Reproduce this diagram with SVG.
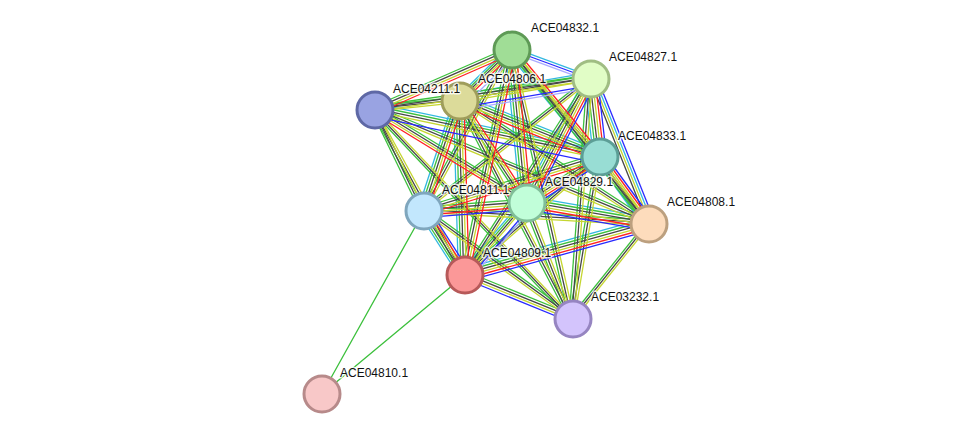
<svg xmlns="http://www.w3.org/2000/svg" xmlns:xlink="http://www.w3.org/1999/xlink" width="975" height="440" viewBox="0 0 975 440">
<style>
.bg{fill:#fff}
.ch{fill:none;stroke-width:1.3}
.gr{stroke:#3cc03c}.bk{stroke:#474747}.yl{stroke:#c5d630}.rd{stroke:#ff2222}.bl{stroke:#2828ff}.cy{stroke:#33b8e0}.li{stroke:#aaaaff}
.node circle{stroke-width:3}
.lbl{font-family:"Liberation Sans",Arial,sans-serif;font-size:12px;fill:#111;stroke:#fff;stroke-width:3;stroke-opacity:.75;paint-order:stroke;stroke-linejoin:round}
</style>
<defs>
<path id="AB" d="M512 50L591 79"/><path id="AC" d="M512 50L460 101"/><path id="AD" d="M512 50L375 110"/><path id="AE" d="M512 50L600 157"/><path id="AF" d="M512 50L527 203"/><path id="AG" d="M512 50L424 211"/><path id="AH" d="M512 50L649 224"/><path id="AI" d="M512 50L465 275"/><path id="AJ" d="M512 50L573 319"/>
<path id="BC" d="M591 79L460 101"/><path id="BD" d="M591 79L375 110"/><path id="BE" d="M591 79L600 157"/><path id="BF" d="M591 79L527 203"/><path id="BG" d="M591 79L424 211"/><path id="BH" d="M591 79L649 224"/><path id="BI" d="M591 79L465 275"/><path id="BJ" d="M591 79L573 319"/>
<path id="CD" d="M460 101L375 110"/><path id="CE" d="M460 101L600 157"/><path id="CF" d="M460 101L527 203"/><path id="CG" d="M460 101L424 211"/><path id="CH" d="M460 101L649 224"/><path id="CI" d="M460 101L465 275"/><path id="CJ" d="M460 101L573 319"/>
<path id="DE" d="M375 110L600 157"/><path id="DF" d="M375 110L527 203"/><path id="DG" d="M375 110L424 211"/><path id="DH" d="M375 110L649 224"/><path id="DI" d="M375 110L465 275"/><path id="DJ" d="M375 110L573 319"/>
<path id="EF" d="M600 157L527 203"/><path id="EG" d="M600 157L424 211"/><path id="EH" d="M600 157L649 224"/><path id="EI" d="M600 157L465 275"/><path id="EJ" d="M600 157L573 319"/>
<path id="FG" d="M527 203L424 211"/><path id="FH" d="M527 203L649 224"/><path id="FI" d="M527 203L465 275"/><path id="FJ" d="M527 203L573 319"/>
<path id="GH" d="M424 211L649 224"/><path id="GI" d="M424 211L465 275"/><path id="GJ" d="M424 211L573 319"/>
<path id="HI" d="M649 224L465 275"/><path id="HJ" d="M649 224L573 319"/>
<path id="IJ" d="M465 275L573 319"/>
</defs>
<rect class="bg" x="0" y="0" width="975" height="440"/>
<g id="connectors">
<g class="ch cy" transform="translate(0,-6.6)"><use href="#BC"/><use href="#CE"/><use href="#FH"/><use href="#HI"/><use href="#DE"/></g>
<g class="ch cy" transform="translate(-6.6,0)"><use href="#BE"/><use href="#EH"/><use href="#AE"/><use href="#AF"/><use href="#CI"/><use href="#CG"/><use href="#GI"/><use href="#FI"/><use href="#AC"/><use href="#BF"/></g>
<g class="ch gr" transform="translate(0,-4)"><use href="#AD"/><use href="#BC"/><use href="#BD"/><use href="#BG"/><use href="#CD"/><use href="#CE"/><use href="#CH"/><use href="#DE"/><use href="#DF"/><use href="#DH"/><use href="#EF"/><use href="#EG"/><use href="#EI"/><use href="#FG"/><use href="#FH"/><use href="#GH"/><use href="#GJ"/><use href="#HI"/><use href="#IJ"/></g>
<g class="ch gr" transform="translate(-4,0)"><use href="#AC"/><use href="#AE"/><use href="#AF"/><use href="#AG"/><use href="#AH"/><use href="#AI"/><use href="#AJ"/><use href="#BE"/><use href="#BF"/><use href="#BI"/><use href="#BJ"/><use href="#CF"/><use href="#CG"/><use href="#CI"/><use href="#CJ"/><use href="#DG"/><use href="#DI"/><use href="#DJ"/><use href="#EH"/><use href="#EJ"/><use href="#FI"/><use href="#FJ"/><use href="#GI"/><use href="#HJ"/></g>
<g class="ch bk" transform="translate(0,-1.3)"><use href="#AD"/><use href="#BC"/><use href="#BD"/><use href="#BG"/><use href="#CD"/><use href="#CE"/><use href="#CH"/><use href="#DE"/><use href="#DF"/><use href="#DH"/><use href="#EF"/><use href="#EG"/><use href="#EI"/><use href="#FG"/><use href="#FH"/><use href="#GH"/><use href="#GJ"/><use href="#HI"/><use href="#IJ"/></g>
<g class="ch bk" transform="translate(-1.3,0)"><use href="#AC"/><use href="#AE"/><use href="#AF"/><use href="#AG"/><use href="#AH"/><use href="#AI"/><use href="#AJ"/><use href="#BE"/><use href="#BF"/><use href="#BH"/><use href="#BI"/><use href="#BJ"/><use href="#CF"/><use href="#CG"/><use href="#CI"/><use href="#CJ"/><use href="#DG"/><use href="#DI"/><use href="#DJ"/><use href="#EH"/><use href="#EJ"/><use href="#FI"/><use href="#FJ"/><use href="#GI"/><use href="#HJ"/></g>
<g class="ch yl" transform="translate(0,1.3)"><use href="#AD"/><use href="#BC"/><use href="#BD"/><use href="#BG"/><use href="#CD"/><use href="#CE"/><use href="#CH"/><use href="#DE"/><use href="#DF"/><use href="#DH"/><use href="#EF"/><use href="#EG"/><use href="#EI"/><use href="#FG"/><use href="#FH"/><use href="#GH"/><use href="#GJ"/><use href="#HI"/><use href="#IJ"/></g>
<g class="ch yl" transform="translate(1.3,0)"><use href="#AC"/><use href="#AE"/><use href="#AF"/><use href="#AG"/><use href="#AH"/><use href="#AI"/><use href="#AJ"/><use href="#BE"/><use href="#BF"/><use href="#BH"/><use href="#BI"/><use href="#BJ"/><use href="#CF"/><use href="#CG"/><use href="#CI"/><use href="#CJ"/><use href="#DG"/><use href="#DI"/><use href="#DJ"/><use href="#EH"/><use href="#EJ"/><use href="#FI"/><use href="#FJ"/><use href="#GI"/><use href="#HJ"/></g>
<g class="ch cy" transform="translate(3.9,0)"><use href="#BH"/></g>
<g class="ch rd" transform="translate(0,4)"><use href="#AD"/><use href="#CE"/><use href="#FG"/><use href="#FH"/><use href="#HI"/><use href="#EG"/><use href="#DF"/><use href="#EF"/></g>
<g class="ch rd" transform="translate(4,0)"><use href="#AC"/><use href="#AE"/><use href="#AF"/><use href="#AI"/><use href="#BE"/><use href="#BF"/><use href="#CF"/><use href="#CI"/><use href="#EH"/><use href="#GI"/><use href="#CG"/></g>
<g class="ch bl" transform="translate(0,6.6)"><use href="#BC"/><use href="#FH"/><use href="#HI"/><use href="#FG"/><use href="#EF"/><use href="#DE"/></g>
<g class="ch bl" transform="translate(0,4)"><use href="#IJ"/></g>
<g class="ch bl" transform="translate(6.6,0)"><use href="#BE"/><use href="#BH"/><use href="#BF"/><use href="#EH"/><use href="#FI"/><use href="#GI"/></g>
<g class="ch li" transform="translate(0,9.2)"><use href="#BC"/></g>
<g class="ch li" transform="translate(9.2,0)"><use href="#FI"/><use href="#AC"/></g>
<use class="ch cy" href="#AB" transform="translate(0,-2.6)"/>
<use class="ch bl" href="#AB"/>
<use class="ch li" href="#AB" transform="translate(0,2.6)"/>
<path class="ch gr" d="M322 394L424 211M322 394L465 275"/>
</g>
<g id="n4832" class="node"><circle cx="512" cy="50" r="18" fill="#a0dd96" stroke="#5e9a56"/><text class="lbl" x="531" y="32">ACE04832.1</text></g>
<g id="n4827" class="node"><circle cx="591" cy="79" r="18" fill="#e1fdc6" stroke="#a0bd83"/><text class="lbl" x="609" y="61">ACE04827.1</text></g>
<g id="n4806" class="node"><circle cx="460" cy="101" r="18" fill="#dcdb9a" stroke="#9f9d5b"/><text class="lbl" x="478" y="83">ACE04806.1</text></g>
<g id="n4211" class="node"><circle cx="375" cy="110" r="18" fill="#99a3e2" stroke="#5e68a5"/><text class="lbl" x="393" y="93">ACE04211.1</text></g>
<g id="n4833" class="node"><circle cx="600" cy="157" r="18" fill="#98ddd4" stroke="#5c9e96"/><text class="lbl" x="618" y="140">ACE04833.1</text></g>
<g id="n4829" class="node"><circle cx="527" cy="203" r="18" fill="#c1fed9" stroke="#80be98"/><text class="lbl" x="545" y="186">ACE04829.1</text></g>
<g id="n4811" class="node"><circle cx="424" cy="211" r="18" fill="#c2e7fd" stroke="#7fa6bd"/><text class="lbl" x="442" y="194">ACE04811.1</text></g>
<g id="n4808" class="node"><circle cx="649" cy="224" r="18" fill="#fddcbc" stroke="#bca07f"/><text class="lbl" x="667" y="206">ACE04808.1</text></g>
<g id="n4809" class="node"><circle cx="465" cy="275" r="18" fill="#fb9898" stroke="#b75959"/><text class="lbl" x="483" y="257">ACE04809.1</text></g>
<g id="n3232" class="node"><circle cx="573" cy="319" r="18" fill="#d3c4fc" stroke="#9685c1"/><text class="lbl" x="591" y="301">ACE03232.1</text></g>
<g id="n4810" class="node"><circle cx="322" cy="394" r="18" fill="#f8c8c8" stroke="#b78a8a"/><text class="lbl" x="340" y="377">ACE04810.1</text></g>
</svg>
